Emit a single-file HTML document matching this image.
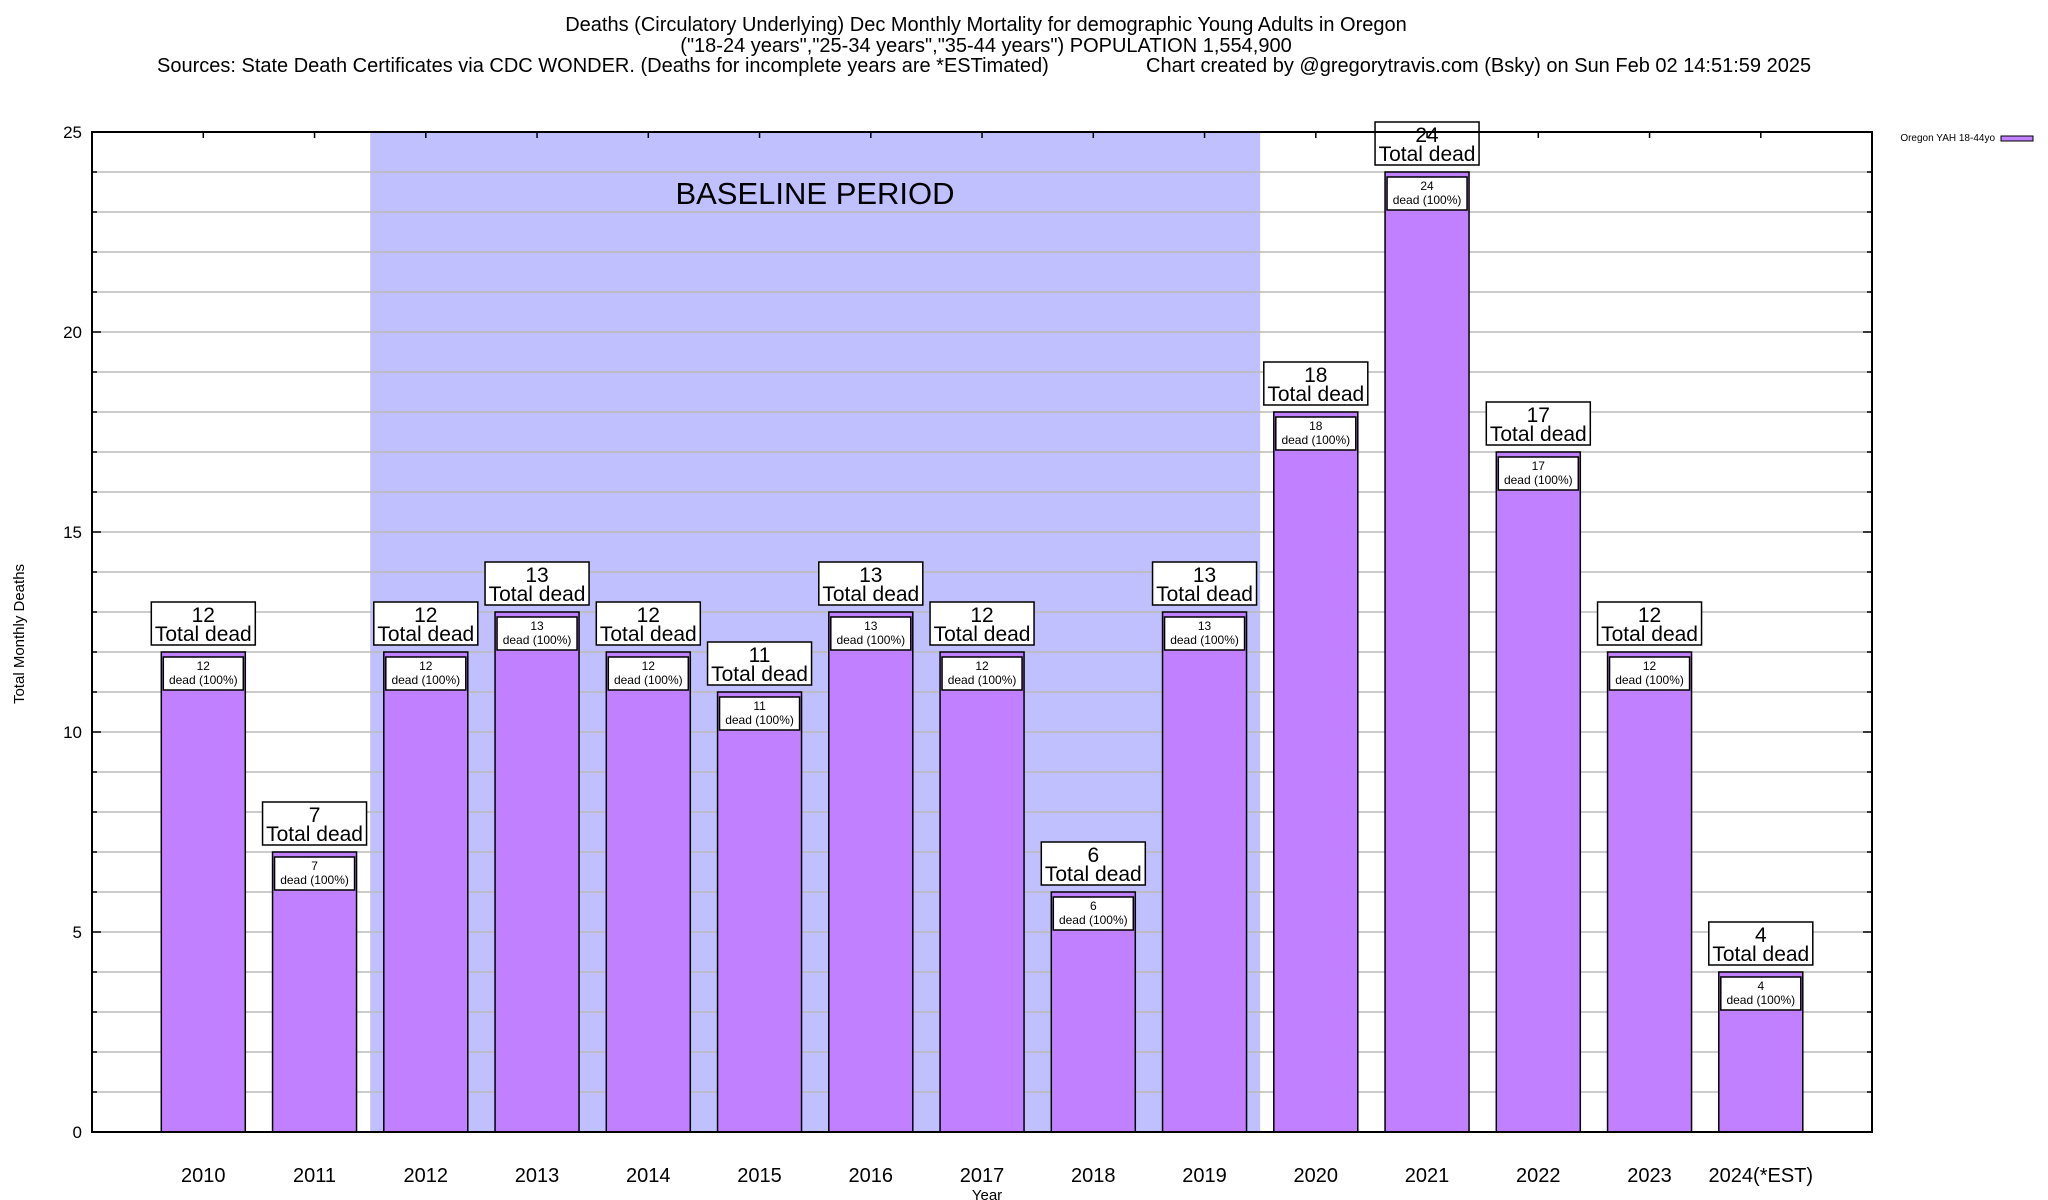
<!DOCTYPE html>
<html><head><meta charset="utf-8"><style>
html,body{margin:0;padding:0;background:#fff;}
svg{display:block;font-family:"Liberation Sans",sans-serif;}
</style></head><body>
<svg id="chart" width="2048" height="1200" viewBox="0 0 2048 1200" xmlns="http://www.w3.org/2000/svg">
<g font-size="20" text-anchor="middle">
<text x="986" y="31">Deaths (Circulatory Underlying) Dec Monthly Mortality for demographic Young Adults in Oregon</text>
<text x="986" y="52">("18-24 years","25-34 years","35-44 years") POPULATION 1,554,900</text>
<text x="157" y="72" text-anchor="start">Sources: State Death Certificates via CDC WONDER. (Deaths for incomplete years are *ESTimated)</text>
<text x="1146" y="72" text-anchor="start">Chart created by @gregorytravis.com (Bsky) on Sun Feb 02 14:51:59 2025</text>
</g>
<g id="shade"></g>
<g id="grid"></g>
<g id="bars"></g>
<rect x="92" y="132" width="1780" height="1000" fill="none" stroke="#000" stroke-width="2"/>
<g id="ticks"></g>
<text x="24" y="634" font-size="15" text-anchor="middle" transform="rotate(-90 24 634)">Total Monthly Deaths</text>
<text x="987" y="1200" font-size="15" text-anchor="middle">Year</text>
<g>
<text x="1995" y="141" font-size="10" text-anchor="end">Oregon YAH 18-44yo</text>
<rect x="2001" y="136" width="32" height="5" fill="#c080ff" stroke="#000"/>
</g>
</svg>
<script>
const categories=["2010","2011","2012","2013","2014","2015","2016","2017","2018","2019","2020","2021","2022","2023","2024(*EST)"];
const deaths=[12,7,12,13,12,11,13,12,6,13,18,24,17,12,4];
const yTicks=[0,5,10,15,20,25];
const baselineStart=1.5, baselineEnd=9.5;
const NS="http://www.w3.org/2000/svg";
const X0=92,X1=1872,Y0=1132,Y1=132;
function xs(i){return 203.3+111.25*i;}
function ys(v){return Y0-(v/25)*(Y0-Y1);}
function mk(t,a,p){const e=document.createElementNS(NS,t);for(const k in a)e.setAttribute(k,a[k]);p.appendChild(e);return e;}
const shade=document.getElementById('shade'),grid=document.getElementById('grid'),bars=document.getElementById('bars'),ticks=document.getElementById('ticks');
let s=mk('rect',{x:xs(baselineStart),y:Y1,width:xs(baselineEnd)-xs(baselineStart),height:Y0-Y1,fill:'#c0c0ff'},shade);


let bt=mk('text',{x:815,y:204,'font-size':31,'text-anchor':'middle'},shade);bt.textContent='BASELINE PERIOD';


for(let v=1;v<25;v++){
 let g=mk('line',{x1:X0,x2:X1,y1:ys(v),y2:ys(v),stroke:'#bbb','stroke-width':1.5},grid);
 
 
 const len=(v%5==0)?9:5;
 mk('line',{x1:X0,x2:X0+len,y1:ys(v),y2:ys(v),stroke:'#000','stroke-width':1.5},ticks);
 mk('line',{x1:X1-len,x2:X1,y1:ys(v),y2:ys(v),stroke:'#000','stroke-width':1.5},ticks);
}
yTicks.forEach(v=>{
 let t=mk('text',{x:82,y:ys(v)+6,'font-size':17,'text-anchor':'end'},ticks);t.textContent=v;
 
 
});
categories.forEach((c,i)=>{
 const cx=xs(i),v=deaths[i],top=ys(v),w=84;
 mk('line',{x1:cx,x2:cx,y1:Y1,y2:Y1+6,stroke:'#000','stroke-width':1.5},ticks);
 let b=mk('rect',{x:cx-w/2,y:top,width:w,height:Y0-top,fill:'#c080ff',stroke:'#000','stroke-width':1.5},bars);
 
 
 let ib=mk('rect',{x:cx-40,y:top+5,width:80,height:33,fill:'#fff',stroke:'#000','stroke-width':1.5},bars);
 
 
 let t1=mk('text',{x:cx,y:top+18,'font-size':12,'text-anchor':'middle'},bars);t1.textContent=v;
 
 
 let t2=mk('text',{x:cx,y:top+32,'font-size':12,'text-anchor':'middle'},bars);t2.textContent='dead (100%)';
 
 
 let ob=mk('rect',{x:cx-52,y:top-50,width:104,height:43,fill:'#fff',stroke:'#000','stroke-width':1.5},bars);
 
 
 let t3=mk('text',{x:cx,y:top-30,'font-size':21,'text-anchor':'middle'},bars);t3.textContent=v;
 
 
 let t4=mk('text',{x:cx,y:top-11,'font-size':21,'text-anchor':'middle'},bars);t4.textContent='Total dead';
 
 
 let xl=mk('text',{x:cx,y:1182,'font-size':20,'text-anchor':'middle'},ticks);xl.textContent=c;
 
 
});
</script>
</body></html>
